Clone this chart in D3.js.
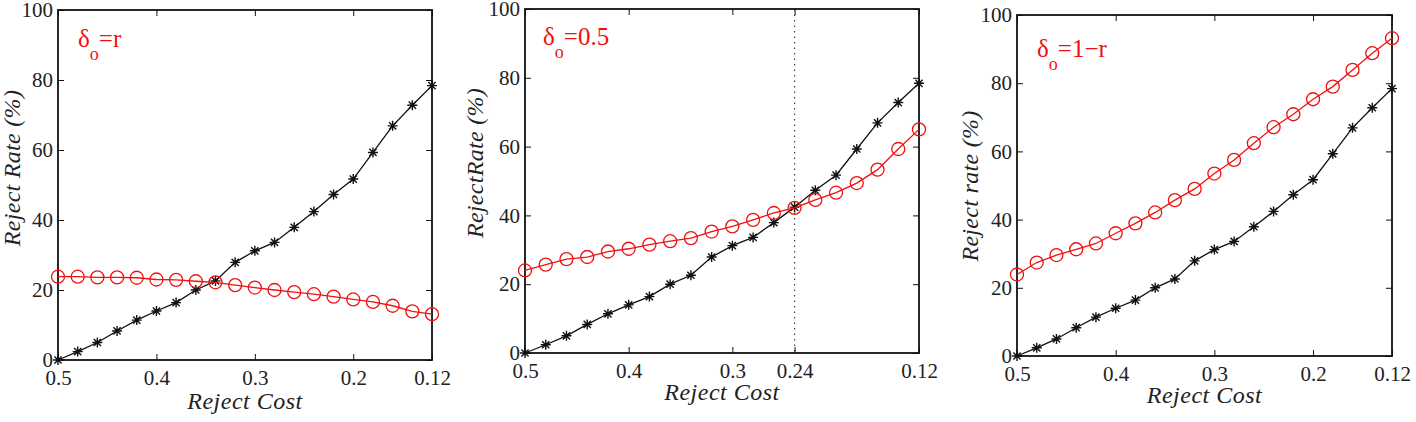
<!DOCTYPE html>
<html>
<head>
<meta charset="utf-8">
<script src="https://cdn.jsdelivr.net/npm/d3@7/dist/d3.min.js"></script>
<style>
  body { margin: 0; background: #fff; }
  svg text { font-family: 'Liberation Serif', Tinos, 'Times New Roman', 'DejaVu Serif', serif; }
</style>
</head>
<body>
<div id="container"></div>
<script>
// reject cost on the x axis (decreasing left to right)
const costs = [0.5, 0.48, 0.46, 0.44, 0.42, 0.4, 0.38, 0.36, 0.34, 0.32,
               0.3, 0.28, 0.26, 0.24, 0.22, 0.2, 0.18, 0.16, 0.14, 0.12];

// black (asterisk) series, same in all three panels
const baseRate = [0, 2.4, 5, 8.3, 11.4, 14, 16.4, 20, 22.6, 27.9,
                  31.2, 33.6, 37.9, 42.4, 47.3, 51.7, 59.3, 66.9, 72.8, 78.4];

// red (circle) series
const rateR = [23.8, 23.8, 23.6, 23.6, 23.5, 23.0, 22.9, 22.5, 22.2, 21.4,
               20.7, 20.0, 19.4, 18.8, 18.1, 17.3, 16.6, 15.5, 13.9, 13.1];
const rateHalf = [24.0, 25.7, 27.3, 27.9, 29.5, 30.3, 31.5, 32.5, 33.4, 35.3,
                  36.8, 38.7, 40.7, 42.2, 44.5, 46.6, 49.4, 53.3, 59.3, 65.0];
const rateOneMinusR = [23.9, 27.4, 29.6, 31.3, 33.0, 36.0, 38.9, 42.1, 45.7, 49.0,
                       53.5, 57.5, 62.4, 67.1, 70.9, 75.3, 79.0, 83.9, 88.8, 93.2];

// tick labels
const yTicks = [0, 20, 40, 60, 80, 100];
const xTicksA = [0.5, 0.4, 0.3, 0.2, 0.12];
const xTicksB = [0.5, 0.4, 0.3, 0.24, 0.12];

const panels = [
  { left: 58, right: 432, top: 10, bottom: 360, red: rateR, xTicks: xTicksA,
    ylabel: "Reject Rate (%)", ylx: 20, yly: 168, xlOff: 49,
    note: "=r", nx: 78, ny: 47 },
  { left: 525, right: 919, top: 9, bottom: 353, red: rateHalf, xTicks: xTicksB,
    ylabel: "RejectRate (%)", ylx: 483, yly: 163, xlOff: 47, marker: 0.24,
    note: "=0.5", nx: 543, ny: 45 },
  { left: 1017, right: 1392, top: 15, bottom: 356, red: rateOneMinusR, xTicks: xTicksA,
    ylabel: "Reject rate (%)", ylx: 978, yly: 186, xlOff: 47,
    note: "=1\u2212r", nx: 1037, ny: 57 }
];

const serif = "'Liberation Serif', Tinos, 'Times New Roman', 'DejaVu Serif', serif";

const svg = d3.select("#container")
  .append("svg")
  .attr("width", 1416)
  .attr("height", 422)
  .style("font-family", serif);

svg.append("rect").attr("width", 1416).attr("height", 422).attr("fill", "#fff");

const tickFont = 21;

panels.forEach(p => {
  const x = d3.scaleLinear().domain([0.5, 0.12]).range([p.left, p.right]);
  const y = d3.scaleLinear().domain([0, 100]).range([p.bottom, p.top]);
  const g = svg.append("g");

  // dotted reference line
  if (p.marker) {
    g.append("line")
      .attr("x1", x(p.marker)).attr("x2", x(p.marker))
      .attr("y1", p.top).attr("y2", p.bottom)
      .attr("stroke", "#444")
      .attr("stroke-width", 1.2)
      .attr("stroke-dasharray", "1.5,4");
  }

  // ticks on all four sides, pointing inward
  const fmt = d => String(d);
  const axes = [
    [d3.axisBottom(x).tickValues(p.xTicks).tickFormat(fmt).tickPadding(10), `translate(0,${p.bottom})`],
    [d3.axisTop(x).tickValues(p.xTicks).tickFormat(""), `translate(0,${p.top})`],
    [d3.axisLeft(y).tickValues(yTicks).tickPadding(5), `translate(${p.left},0)`],
    [d3.axisRight(y).tickValues(yTicks).tickFormat(""), `translate(${p.right},0)`]
  ];
  axes.forEach(([ax, tr]) => {
    const a = g.append("g")
      .attr("transform", tr)
      .call(ax.tickSizeInner(-6).tickSizeOuter(0));
    a.attr("font-family", null).attr("font-size", null);
    a.select(".domain").remove();
    a.selectAll("line").attr("stroke", "#111").attr("stroke-width", 1);
    a.selectAll("text")
      .attr("font-size", tickFont)
      .attr("fill", "#222");
  });

  // box
  g.append("rect")
    .attr("x", p.left).attr("y", p.top)
    .attr("width", p.right - p.left).attr("height", p.bottom - p.top)
    .attr("fill", "none")
    .attr("stroke", "#111")
    .attr("stroke-width", 1.8);

  const line = d3.line()
    .x((d, i) => x(costs[i]))
    .y(d => y(d));

  // black series
  g.append("path")
    .datum(baseRate)
    .attr("d", line)
    .attr("fill", "none")
    .attr("stroke", "#111")
    .attr("stroke-width", 1.3);

  const r = 5, a = 3.6;
  const star = `M${-r},0L${r},0M0,${-r}L0,${r}M${-a},${-a}L${a},${a}M${-a},${a}L${a},${-a}`;
  g.selectAll(".star")
    .data(baseRate)
    .enter()
    .append("path")
    .attr("class", "star")
    .attr("transform", (d, i) => `translate(${x(costs[i])},${y(d)})`)
    .attr("d", star)
    .attr("fill", "none")
    .attr("stroke", "#111")
    .attr("stroke-width", 1.4);

  // red series
  g.append("path")
    .datum(p.red)
    .attr("d", line)
    .attr("fill", "none")
    .attr("stroke", "#f01010")
    .attr("stroke-width", 1.3);

  g.selectAll(".ring")
    .data(p.red)
    .enter()
    .append("circle")
    .attr("class", "ring")
    .attr("cx", (d, i) => x(costs[i]))
    .attr("cy", d => y(d))
    .attr("r", 6.5)
    .attr("fill", "none")
    .attr("stroke", "#f01010")
    .attr("stroke-width", 1.3);

  // axis labels
  g.append("text")
    .attr("x", (p.left + p.right) / 2)
    .attr("y", p.bottom + p.xlOff)
    .attr("text-anchor", "middle")
    .attr("font-style", "italic")
    .attr("font-size", 24)
    .attr("letter-spacing", 0.5)
    .attr("fill", "#222")
    .text("Reject Cost");

  g.append("text")
    .attr("transform", `translate(${p.ylx},${p.yly}) rotate(-90)`)
    .attr("text-anchor", "middle")
    .attr("font-style", "italic")
    .attr("font-size", 24)
    .attr("letter-spacing", 0.3)
    .attr("fill", "#222")
    .text(p.ylabel);

  // annotation
  const note = g.append("text")
    .attr("x", p.nx)
    .attr("y", p.ny)
    .attr("font-size", 25)
    .attr("fill", "#f01010");
  note.append("tspan").text("\u03b4");
  note.append("tspan").attr("font-size", 18).attr("dy", 13).text("o");
  note.append("tspan").attr("dy", -13).text(p.note);
});
</script>
</body>
</html>
